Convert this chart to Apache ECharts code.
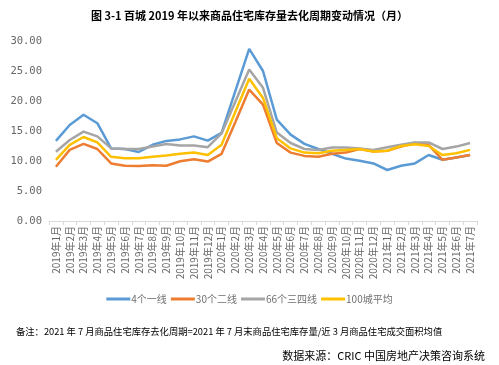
<!DOCTYPE html>
<html><head><meta charset="utf-8">
<script src="https://cdn.jsdelivr.net/npm/echarts@6/dist/echarts.min.js"></script>
<style>html,body{margin:0;padding:0;background:#fff}#c{width:499px;height:365px}</style>
</head><body><div id="c"></div>
<script>
const categories = ["2019年1月","2019年2月","2019年3月","2019年4月","2019年5月","2019年6月","2019年7月","2019年8月","2019年9月","2019年10月","2019年11月","2019年12月","2020年1月","2020年2月","2020年3月","2020年4月","2020年5月","2020年6月","2020年7月","2020年8月","2020年9月","2020年10月","2020年11月","2020年12月","2021年1月","2021年2月","2021年3月","2021年4月","2021年5月","2021年6月","2021年7月"];
const tier1 = [13.35,16.0,17.7,16.3,12.1,12.0,11.5,12.7,13.35,13.6,14.1,13.4,14.7,21.7,28.7,25.0,16.9,14.4,12.85,12.0,11.2,10.4,10.05,9.6,8.5,9.2,9.6,11.0,10.2,10.6,11.0];
const tier2 = [9.05,11.85,12.85,12.0,9.6,9.2,9.15,9.3,9.2,9.95,10.3,9.9,11.2,16.5,21.9,19.4,13.0,11.4,10.85,10.7,11.2,11.4,12.0,11.6,11.7,12.4,13.0,12.7,10.2,10.6,11.0];
const tier34 = [11.55,13.5,14.9,14.1,12.1,12.0,12.0,12.4,12.85,12.6,12.6,12.3,14.6,19.9,25.25,22.2,14.75,13.0,12.0,11.85,12.25,12.25,12.1,11.85,12.3,12.7,13.1,13.1,12.0,12.4,13.0];
const avg100 = [10.2,12.7,14.0,13.1,10.7,10.45,10.45,10.7,10.9,11.2,11.4,11.0,12.7,18.2,23.7,20.5,13.8,12.1,11.4,11.3,11.7,11.85,12.0,11.6,11.7,12.5,12.8,12.5,11.0,11.3,11.85];
const seriesNames = ["4个一线","30个二线","66个三四线","100城平均"];
const seriesColors = ["#5B9BD5","#ED7D31","#A5A5A5","#FFC000"];
const yTicks = [0,5,10,15,20,25,30];
const titleText = "图 3-1 百城 2019 年以来商品住宅库存量去化周期变动情况（月）";
const noteText = "备注：2021 年 7 月商品住宅库存去化周期=2021 年 7 月末商品住宅库存量/近 3 月商品住宅成交面积均值";
const sourceText = "数据来源：CRIC 中国房地产决策咨询系统";

const chart = echarts.init(document.getElementById('c'));
const data = [tier1, tier2, tier34, avg100];
chart.setOption({
  animation: false,
  title: [
    {text: titleText, left: 'center', top: 5, textStyle: {fontSize: 11, fontWeight: 'bold', color: '#000', fontFamily: 'Noto Sans CJK SC'}},
    {text: noteText, left: 11, top: 322, textStyle: {fontSize: 9.3, fontWeight: 'normal', color: '#000', fontFamily: 'Noto Sans CJK SC'}},
    {text: sourceText, right: 9, top: 345, textStyle: {fontSize: 11, fontWeight: 'normal', color: '#000', fontFamily: 'Noto Sans CJK SC'}}
  ],
  legend: {
    data: seriesNames, top: 289, left: 'center', icon: 'rect', itemWidth: 24, itemHeight: 3, itemGap: 4,
    textStyle: {fontSize: 10, color: '#6f6f6f', fontFamily: 'Noto Sans CJK SC', padding: [0,0,0,-4]}
  },
  grid: {left: 49, right: 22, top: 41, bottom: 144, containLabel: false},
  xAxis: {
    type: 'category', data: categories, boundaryGap: true,
    axisLine: {lineStyle: {color: '#d9d9d9'}},
    axisTick: {show: true, alignWithLabel: false, length: 4, lineStyle: {color: '#d9d9d9'}},
    axisLabel: {rotate: 90, interval: 0, fontSize: 10, color: '#666', margin: 5, fontFamily: 'Noto Sans CJK SC'}
  },
  yAxis: {
    type: 'value', min: yTicks[0], max: yTicks[yTicks.length-1], interval: 5,
    splitLine: {show: false}, axisLine: {show: false}, axisTick: {show: false},
    axisLabel: {formatter: v => v.toFixed(2), fontSize: 10.5, color: '#666', margin: 7, fontFamily: 'DejaVu Sans Mono'}
  },
  series: seriesNames.map((n, i) => ({
    name: n, type: 'line', data: data[i], symbol: 'none', smooth: false,
    lineStyle: {width: 2.5, color: seriesColors[i]}, itemStyle: {color: seriesColors[i]}
  }))
});
</script></body></html>
